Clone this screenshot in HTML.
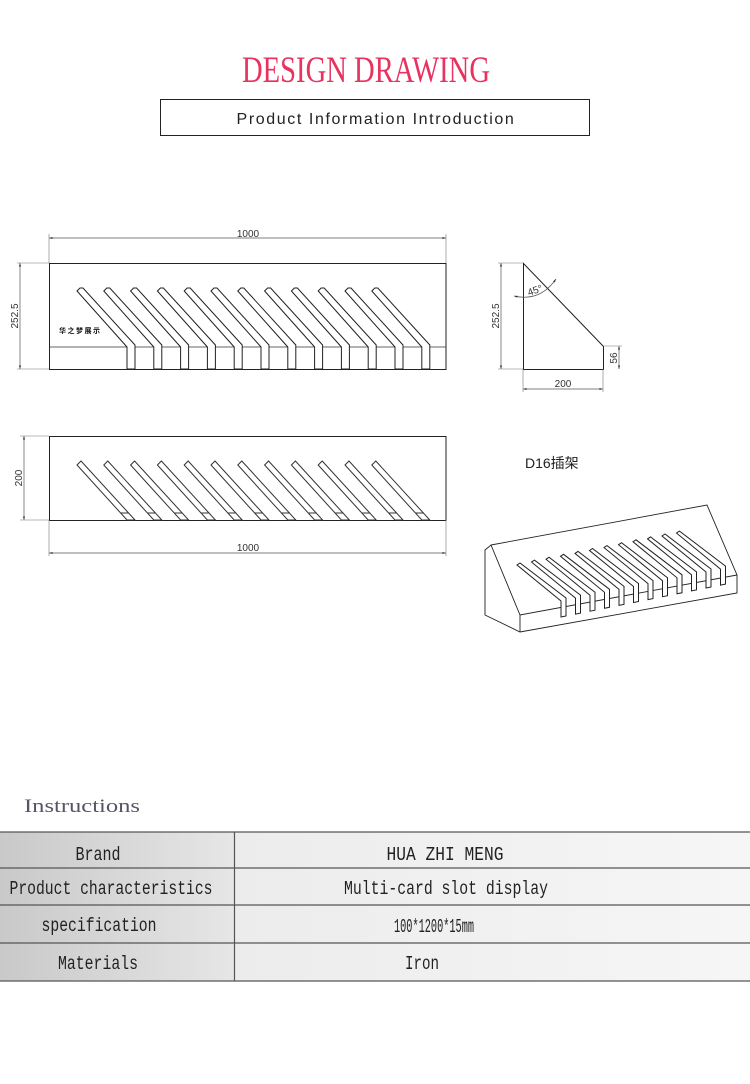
<!DOCTYPE html>
<html><head><meta charset="utf-8"><style>
html,body{margin:0;padding:0;background:#fff;width:750px;height:1084px;overflow:hidden}
svg{display:block}
</style></head><body>
<svg width="750" height="1084" viewBox="0 0 750 1084" xmlns="http://www.w3.org/2000/svg">
<defs>
<linearGradient id="g1" x1="0" x2="1"><stop offset="0" stop-color="#c9c9c9"/><stop offset="1" stop-color="#e6e6e6"/></linearGradient>
<linearGradient id="g2" x1="0" x2="1"><stop offset="0" stop-color="#ececec"/><stop offset="1" stop-color="#f6f6f6"/></linearGradient>
<polygon id="fs" points="77,291 80,288 83,288 135,345 135,369 127,369 127,347" fill="#fff" stroke="#222" stroke-width="1"/>
<g id="bs"><polygon points="77,465 81,461 135,520 127,520" fill="#fff" stroke="#333" stroke-width="1"/><line x1="121" y1="513" x2="129" y2="513" stroke="#333"/></g>
<g id="ts"><polygon points="517,565 520,563 566,598 566,616 561,617 561,601" fill="#fff" stroke="#222" stroke-width="1"/></g>
<marker id="ar" viewBox="0 0 10 10" refX="10" refY="5" markerWidth="7" markerHeight="5" orient="auto-start-reverse"><path d="M0,2 L10,5 L0,8z" fill="#333"/></marker>
</defs>

<text x="366" y="82" text-anchor="middle" font-family="Liberation Serif, serif" font-size="37" fill="#e8325f" textLength="248" lengthAdjust="spacingAndGlyphs">DESIGN DRAWING</text>
<rect x="160.5" y="99.5" width="429" height="36" fill="none" stroke="#222" stroke-width="1"/>
<text x="376" y="124" text-anchor="middle" font-family="Liberation Sans, sans-serif" font-size="16" fill="#222" letter-spacing="1.6">Product Information Introduction</text>

<g font-family="Liberation Sans, sans-serif" font-size="10" fill="#333">
<line x1="49" y1="238" x2="446" y2="238" stroke="#555" stroke-width="0.7" marker-start="url(#ar)" marker-end="url(#ar)"/>
<line x1="49" y1="234" x2="49" y2="263" stroke="#777" stroke-width="0.6"/>
<line x1="446" y1="234" x2="446" y2="263" stroke="#777" stroke-width="0.6"/>
<text x="248" y="237" text-anchor="middle">1000</text>
<line x1="20" y1="263" x2="20" y2="369" stroke="#555" stroke-width="0.7" marker-start="url(#ar)" marker-end="url(#ar)"/>
<line x1="17" y1="263" x2="49" y2="263" stroke="#777" stroke-width="0.6"/>
<line x1="17" y1="369" x2="49" y2="369" stroke="#777" stroke-width="0.6"/>
<text transform="translate(18,316) rotate(-90)" text-anchor="middle">252.5</text>
<rect x="49.5" y="263.5" width="396.5" height="106" fill="#fff" stroke="#222" stroke-width="1"/>
<line x1="49" y1="347" x2="446" y2="347" stroke="#333" stroke-width="0.8"/>
<use href="#fs"/><use href="#fs" x="26.8"/><use href="#fs" x="53.6"/><use href="#fs" x="80.4"/><use href="#fs" x="107.2"/><use href="#fs" x="134"/><use href="#fs" x="160.8"/><use href="#fs" x="187.6"/><use href="#fs" x="214.4"/><use href="#fs" x="241.2"/><use href="#fs" x="268"/><use href="#fs" x="294.8"/>
<text x="59" y="333" font-family="Noto Sans CJK SC, sans-serif" font-size="7" font-weight="bold" fill="#111" letter-spacing="1.5">华之梦展示</text>

<rect x="49.5" y="436.5" width="396.5" height="84" fill="#fff" stroke="#222" stroke-width="1"/>
<use href="#bs"/><use href="#bs" x="26.8"/><use href="#bs" x="53.6"/><use href="#bs" x="80.4"/><use href="#bs" x="107.2"/><use href="#bs" x="134"/><use href="#bs" x="160.8"/><use href="#bs" x="187.6"/><use href="#bs" x="214.4"/><use href="#bs" x="241.2"/><use href="#bs" x="268"/><use href="#bs" x="294.8"/>
<line x1="24" y1="436" x2="24" y2="520" stroke="#555" stroke-width="0.7" marker-start="url(#ar)" marker-end="url(#ar)"/>
<line x1="20" y1="436" x2="49" y2="436" stroke="#777" stroke-width="0.6"/>
<line x1="20" y1="520" x2="49" y2="520" stroke="#777" stroke-width="0.6"/>
<text transform="translate(22,478) rotate(-90)" text-anchor="middle">200</text>
<line x1="49" y1="553" x2="446" y2="553" stroke="#555" stroke-width="0.7" marker-start="url(#ar)" marker-end="url(#ar)"/>
<line x1="49" y1="520" x2="49" y2="556" stroke="#777" stroke-width="0.6"/>
<line x1="446" y1="520" x2="446" y2="556" stroke="#777" stroke-width="0.6"/>
<text x="248" y="551" text-anchor="middle">1000</text>

<polygon points="523.5,263.5 523.5,369.5 603.5,369.5 603.5,346.5" fill="#fff" stroke="#222" stroke-width="1"/>
<line x1="501" y1="263" x2="501" y2="369" stroke="#555" stroke-width="0.7" marker-start="url(#ar)" marker-end="url(#ar)"/>
<line x1="498" y1="263" x2="523" y2="263" stroke="#777" stroke-width="0.6"/>
<line x1="498" y1="369" x2="523" y2="369" stroke="#777" stroke-width="0.6"/>
<text transform="translate(499,316) rotate(-90)" text-anchor="middle">252.5</text>
<line x1="523" y1="389" x2="603" y2="389" stroke="#555" stroke-width="0.7" marker-start="url(#ar)" marker-end="url(#ar)"/>
<line x1="523" y1="369" x2="523" y2="392" stroke="#777" stroke-width="0.6"/>
<line x1="603" y1="369" x2="603" y2="392" stroke="#777" stroke-width="0.6"/>
<text x="563" y="387" text-anchor="middle">200</text>
<line x1="619" y1="346" x2="619" y2="369" stroke="#555" stroke-width="0.7" marker-start="url(#ar)" marker-end="url(#ar)"/>
<line x1="603" y1="346" x2="622" y2="346" stroke="#777" stroke-width="0.6"/>
<text transform="translate(617,358) rotate(-90)" text-anchor="middle">56</text>
<path d="M514,296 Q540,302 556,279" fill="none" stroke="#555" stroke-width="0.7" marker-start="url(#ar)" marker-end="url(#ar)"/>
<text transform="translate(529,296) rotate(-20)" font-size="10">45°</text>

<text x="525" y="468" font-family="Liberation Sans, Noto Sans CJK SC, sans-serif" font-size="14" fill="#222">D16插架</text>

<polygon points="491,545 707,505 737,575 737,593 520,632 485,615 485,550" fill="#fff" stroke="#222" stroke-width="0.9"/>
<polyline points="491,545 520,615 737,575" fill="none" stroke="#222" stroke-width="0.9"/>
<line x1="520" y1="615" x2="520" y2="632" stroke="#222" stroke-width="0.9"/>
<use href="#ts"/><use href="#ts" x="14.5" y="-2.9"/><use href="#ts" x="29" y="-5.8"/><use href="#ts" x="43.5" y="-8.7"/><use href="#ts" x="58" y="-11.6"/><use href="#ts" x="72.5" y="-14.5"/><use href="#ts" x="87" y="-17.4"/><use href="#ts" x="101.5" y="-20.3"/><use href="#ts" x="116" y="-23.2"/><use href="#ts" x="130.5" y="-26.1"/><use href="#ts" x="145" y="-29"/><use href="#ts" x="159.5" y="-31.9"/>
</g>

<text x="24" y="812" font-family="Liberation Serif, serif" font-size="19" fill="#556" textLength="116" lengthAdjust="spacingAndGlyphs">Instructions</text>
<rect x="0" y="832" width="234" height="149" fill="url(#g1)"/>
<rect x="234" y="832" width="516" height="149" fill="url(#g2)"/>
<g stroke="#555" stroke-width="1.2">
<line x1="0" y1="832" x2="750" y2="832"/><line x1="0" y1="868" x2="750" y2="868"/><line x1="0" y1="905" x2="750" y2="905"/><line x1="0" y1="943" x2="750" y2="943"/><line x1="0" y1="981" x2="750" y2="981"/>
<line x1="234.5" y1="832" x2="234.5" y2="981"/>
</g>
<g font-family="Liberation Mono, monospace" font-size="19" fill="#222" text-anchor="middle">
<text x="98" y="860" textLength="45" lengthAdjust="spacingAndGlyphs">Brand</text>
<text x="111" y="894" textLength="203" lengthAdjust="spacingAndGlyphs">Product characteristics</text>
<text x="99" y="931" textLength="115" lengthAdjust="spacingAndGlyphs">specification</text>
<text x="98" y="969" textLength="80" lengthAdjust="spacingAndGlyphs">Materials</text>
<text x="445" y="860" textLength="117" lengthAdjust="spacingAndGlyphs">HUA ZHI MENG</text>
<text x="446" y="894" textLength="204" lengthAdjust="spacingAndGlyphs">Multi-card slot display</text>
<text x="434" y="932" textLength="80" lengthAdjust="spacingAndGlyphs">100*1200*15mm</text>
<text x="422" y="969" textLength="34" lengthAdjust="spacingAndGlyphs">Iron</text>
</g>
</svg>
</body></html>
